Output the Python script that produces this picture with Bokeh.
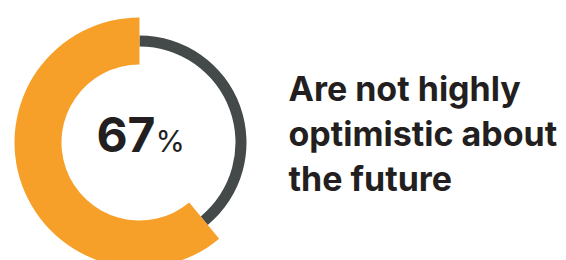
import math
from bokeh.plotting import figure
from bokeh.models import Range1d, ColumnDataSource
from bokeh.core.properties import value
from bokeh.embed import file_html
from bokeh.resources import INLINE

# ---- data ----
segments = ["Not highly optimistic", "Highly optimistic"]
arc_share = [61, 39]          # arc shares as drawn in the picture (percent)
seg_colors = ["#F6A02A", "#434A49"]
label_value = 67
label_lines = ["Are not highly", "optimistic about", "the future"]

# ---- geometry (pixel-like data units) ----
W, H = 566, 260
cx, cy = 139, 118
ring = {"Not highly optimistic": (78, 125), "Highly optimistic": (96, 107)}

p = figure(width=W, height=H, output_backend="svg", toolbar_location=None,
           x_range=Range1d(0, W), y_range=Range1d(0, H), min_border=0)
p.axis.visible = False
p.grid.visible = False
p.outline_line_color = None
p.background_fill_color = "white"

start = math.pi / 2
starts, ends = [], []
acc = 0.0
for s in arc_share:
    starts.append(start + acc / 100 * 2 * math.pi)
    acc += s
    ends.append(start + acc / 100 * 2 * math.pi)

# draw gray ring first, then orange on top
for i in [1, 0]:
    inner, outer = ring[segments[i]]
    p.annular_wedge(x=[cx], y=[cy], inner_radius=inner, outer_radius=outer,
                    start_angle=[starts[i]], end_angle=[ends[i]],
                    direction="anticlock", color=seg_colors[i], line_color=None)

p.text(x=[cx + 16], y=[cy + 8], text=[str(label_value)], text_font=value("Inter"),
       text_font_style="bold", text_font_size="48px", text_color="#231F20",
       text_align="right", text_baseline="alphabetic")
p.text(x=[cx + 16], y=[cy + 2], text=["%"], text_font=value("Inter"),
       text_font_size="30px", text_color="#231F20",
       text_align="left", text_baseline="alphabetic")

src = ColumnDataSource(dict(x=[288] * 3, y=[172, 127, 82], t=label_lines))
p.text(x="x", y="y", text="t", source=src, text_font=value("Inter"),
       text_font_style="bold", text_font_size="34px", text_color="#231F20",
       text_align="left", text_baseline="alphabetic")

open("out.html", "w").write(file_html(p, INLINE))
